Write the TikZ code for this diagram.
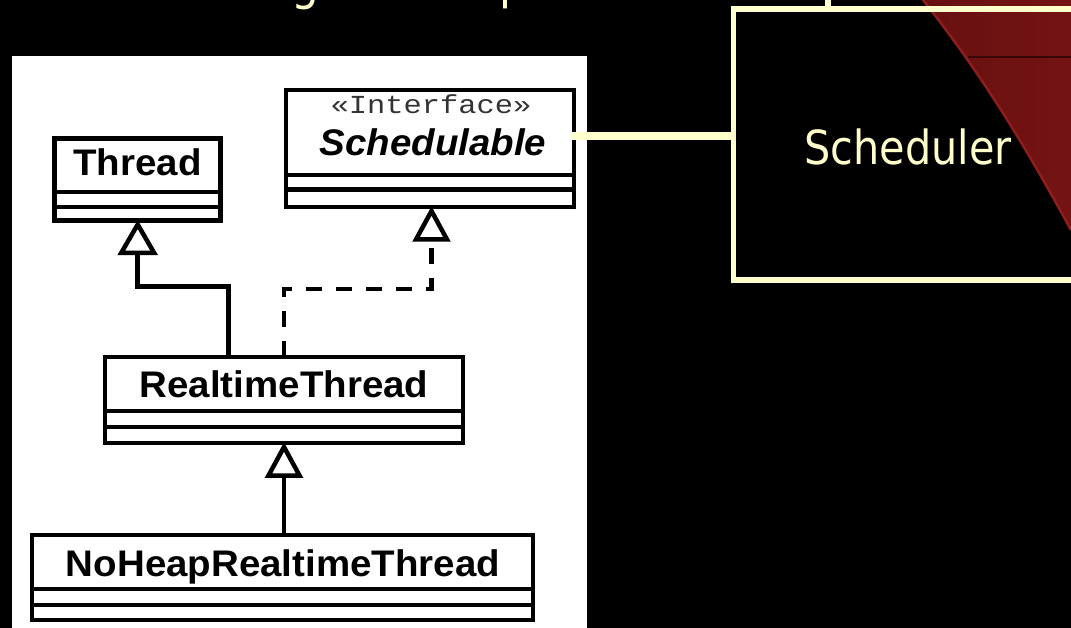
\documentclass[tikz,border=0pt]{standalone}
\usepackage{fontspec}
\setmainfont{Liberation Sans}
\newfontfamily\umlfont[FakeStretch=1.04]{Liberation Sans}
\newfontfamily\umlmono[FakeStretch=1.17]{Liberation Mono}
\newfontfamily\slidefont[FakeStretch=0.88]{DejaVu Sans}
\definecolor{paleyellow}{HTML}{FFFFCC}
\definecolor{wedgeL}{HTML}{661010}
\definecolor{wedgeR}{HTML}{781414}
\definecolor{wedgeedge}{HTML}{901D1D}
\definecolor{wedgeline}{HTML}{3A0707}
\begin{document}
\begin{tikzpicture}[x=1pt,y=-1pt,
  umlbox/.style={draw=black, line width=4.5pt, fill=white, rectangle,
    inner sep=0pt, outer sep=0pt},
  compart/.style={draw=black, line width=4.5pt},
  umlname/.style={anchor=base, inner sep=0pt, text=black,
    font=\umlfont\bfseries\fontsize{37}{37}\selectfont},
  stereo/.style={anchor=base, inner sep=0pt, text=black!80,
    font=\umlmono\fontsize{26}{26}\selectfont},
  conn/.style={draw=black, line width=4.5pt},
  realize/.style={conn, dash pattern=on 16pt off 14pt},
  gentip/.style={draw=black, fill=white, line width=4.5pt, line join=miter},
  slidebox/.style={draw=paleyellow, line width=5.5pt, rectangle,
    inner sep=0pt, outer sep=0pt},
  slidetext/.style={anchor=base, inner sep=0pt, text=paleyellow,
    font=\slidefont\fontsize{47}{47}\selectfont},
  titletext/.style={anchor=base west, inner sep=0pt, text=paleyellow,
    font=\slidefont\fontsize{50}{50}\selectfont},
  yline/.style={draw=paleyellow, line width=8pt}
]
\useasboundingbox (0,0) rectangle (1071,628);
\fill[black] (0,0) rectangle (1071,628);

\begin{scope}
\clip (0,0) rectangle (1071,628);

% dark red wedge in the upper right corner
\shade[left color=wedgeL, right color=wedgeR]
  (910,-20) -- (923,0) .. controls (984,77) and (1029,153) .. (1071,230)
  -- (1110,230) -- (1110,-20) -- cycle;
\draw[wedgeline, line width=1.2pt] (968,57) -- (1110,57);
\draw[wedgeedge, line width=2.5pt]
  (910,-20) -- (923,0) .. controls (984,77) and (1029,153) .. (1071,230);

% bits of the slide title above the frame
\node[titletext] (title-g) at (291,-0.5) {g};
\node[titletext] (title-p) at (499,-1) {p};

% scheduler frame
\node[slidebox, minimum width=376.5pt, minimum height=271pt]
  (scheduler) at (921.75,144.5) {};
\node[slidetext] (scheduler-label) at (908,165) {Scheduler};
\coordinate (upstream) at (828,-10);
\draw[draw=paleyellow, line width=6pt] (scheduler.north -| upstream) -- (upstream);

% white class-diagram panel
\fill[white] (12,56) rectangle (587,640);

% classes
\node[umlbox, minimum width=165.8pt, minimum height=81.8pt]
  (thread) at (137.6,179.6) {};
\draw[compart] (thread.west |- 0,192) -- (thread.east |- 0,192);
\draw[compart] (thread.west |- 0,207) -- (thread.east |- 0,207);
\node[umlname] (thread-label) at (137.6,176) {Thread};

\node[umlbox, minimum width=288.2pt, minimum height=117pt]
  (schedulable) at (429.9,148.5) {};
\draw[compart] (schedulable.west |- 0,175) -- (schedulable.east |- 0,175);
\draw[compart] (schedulable.west |- 0,189.5) -- (schedulable.east |- 0,189.5);
\node[stereo] (schedulable-stereo) at (431,114) {«Interface»};
\node[umlname, font=\umlfont\bfseries\itshape\fontsize{37}{37}\selectfont]
  (schedulable-label) at (433,156) {Schedulable};

\node[umlbox, minimum width=358pt, minimum height=86pt]
  (rt) at (284,400) {};
\draw[compart] (rt.west |- 0,411) -- (rt.east |- 0,411);
\draw[compart] (rt.west |- 0,427) -- (rt.east |- 0,427);
\node[umlname] (rt-label) at (284,397) {RealtimeThread};

\node[umlbox, minimum width=501pt, minimum height=85pt]
  (nhrt) at (282.5,577.5) {};
\draw[compart] (nhrt.west |- 0,589) -- (nhrt.east |- 0,589);
\draw[compart] (nhrt.west |- 0,605) -- (nhrt.east |- 0,605);
\node[umlname] (nhrt-label) at (283,576) {NoHeapRealtimeThread};

% generalisation RealtimeThread -> Thread
\coordinate (bendA) at (228.5,286.5);
\coordinate (threadhook) at (137.7,253);
\draw[conn] (rt.north -| bendA) -- (bendA) -| (threadhook);
\draw[gentip] (thread.south -| threadhook) ++(0,4) -- ++(-16.5,28.5) -- ++(33,0) -- cycle;

% realisation RealtimeThread -> Schedulable
\coordinate (bendB) at (284,289);
\coordinate (ifacehook) at (431.5,236);
\draw[realize] (rt.north -| bendB) -- (bendB) -| (ifacehook);
\draw[gentip] (schedulable.south -| ifacehook) ++(0,4) -- ++(-15.5,28.5) -- ++(31,0) -- cycle;

% generalisation NoHeapRealtimeThread -> RealtimeThread
\coordinate (rthook) at (284,472.5);
\draw[conn] (nhrt.north -| rthook) -- (rthook);
\draw[gentip] (rt.south -| rthook) ++(0,4) -- ++(-15.5,28.5) -- ++(31,0) -- cycle;

% association from the interface to the scheduler frame
\draw[yline] ([xshift=-2pt]schedulable.east |- 0,136.5) -- (scheduler.west |- 0,136.5);
\end{scope}
\end{tikzpicture}
\end{document}
